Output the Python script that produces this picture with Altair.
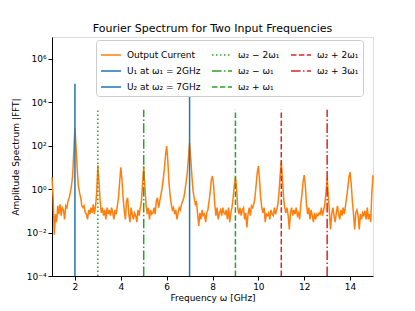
import altair as alt
import pandas as pd

# ---- data ----
freq_start = 1.0
freq_step = 0.05
spectrum = [
    # 1.00 - 1.95
    3.5, 0.4, 0.008, 0.07, 0.03, 0.17, 0.07, 0.2, 0.06, 0.14,
    0.11, 0.04, 0.17, 0.14, 0.28, 0.4, 0.7, 1.4, 4.2, 55,
    # 2.00 - 2.95
    650, 80, 8, 1.4, 0.7, 0.4, 0.17, 0.14, 0.17, 0.08,
    0.07, 0.04, 0.11, 0.07, 0.14, 0.08, 0.2, 0.07, 0.17, 0.7,
    # 3.00 - 3.95
    12.6, 2.1, 0.28, 0.08, 0.14, 0.06, 0.11, 0.04, 0.14, 0.07,
    0.11, 0.06, 0.14, 0.08, 0.04, 0.11, 0.07, 0.17, 0.4, 2.1,
    # 4.00 - 4.95
    10, 2.8, 0.4, 0.11, 0.04, 0.28, 0.4, 0.07, 0.03, 0.14,
    0.07, 0.04, 0.08, 0.06, 0.03, 0.11, 0.06, 0.14, 0.28, 1.7,
    # 5.00 - 5.95
    11.5, 1.4, 0.2, 0.07, 0.14, 0.04, 0.11, 0.07, 0.08, 0.14,
    0.07, 0.28, 0.4, 0.14, 0.28, 0.55, 1.1, 2.8, 8.4, 35,
    # 6.00 - 6.95
    95, 21, 2.1, 0.55, 0.2, 0.11, 0.14, 0.07, 0.11, 0.04,
    0.08, 0.14, 0.11, 0.2, 0.28, 0.4, 0.85, 2.1, 5.6, 28,
    # 7.00 - 7.95
    130, 28, 4.2, 0.85, 0.4, 0.2, 0.28, 0.07, 0.02, 0.08,
    0.04, 0.11, 0.06, 0.07, 0.03, 0.08, 0.11, 0.28, 0.7, 2.8,
    # 8.00 - 8.95
    4, 1.4, 0.2, 0.06, 0.14, 0.04, 0.08, 0.11, 0.06, 0.14,
    0.08, 0.07, 0.11, 0.04, 0.14, 0.03, 0.08, 0.14, 0.4, 1.4,
    # 9.00 - 9.95
    3.6, 1.1, 0.14, 0.07, 0.14, 0.06, 0.11, 0.14, 0.04, 0.08,
    0.017, 0.07, 0.14, 0.06, 0.17, 0.14, 0.2, 0.4, 1.4, 5.6,
    # 10.00 - 10.95
    11.5, 2.8, 0.4, 0.14, 0.08, 0.14, 0.03, 0.07, 0.06, 0.08,
    0.04, 0.11, 0.07, 0.06, 0.14, 0.07, 0.11, 0.2, 0.7, 4.2,
    # 11.00 - 11.95
    17.5, 2.8, 0.4, 0.14, 0.08, 0.14, 0.06, 0.014, 0.08, 0.14,
    0.06, 0.11, 0.07, 0.14, 0.06, 0.08, 0.04, 0.2, 0.55, 2.1,
    # 12.00 - 12.95
    4.4, 1.4, 0.2, 0.07, 0.14, 0.04, 0.11, 0.06, 0.03, 0.08,
    0.04, 0.07, 0.06, 0.08, 0.07, 0.14, 0.06, 0.11, 0.2, 0.7,
    # 13.00 - 13.95
    3.2, 0.55, 0.08, 0.014, 0.07, 0.14, 0.06, 0.03, 0.08, 0.17,
    0.07, 0.04, 0.11, 0.06, 0.14, 0.07, 0.17, 0.4, 1.1, 3.5,
    # 14.00 - 14.95
    6, 1.7, 0.28, 0.07, 0.014, 0.08, 0.11, 0.06, 0.014, 0.07,
    0.04, 0.08, 0.06, 0.1, 0.04, 0.14, 0.04, 0.07, 0.03, 0.7,
    # 15.00
    4.4,
]
freqs = [round(freq_start + i * freq_step, 2) for i in range(len(spectrum))]

# legend order (filled column by column, 3 columns)
legend_order = ["Output Current", "U₁ at ω₁ = 2GHz", "U₂ at ω₂ = 7GHz",
                "ω₂ − 2ω₁", "ω₂ − ω₁", "ω₂ + ω₁",
                "ω₂ + 2ω₁", "ω₂ + 3ω₁"]
legend_colors = ["#ff7f0e", "#1f77b4", "#1f77b4",
                 "#2ca02c", "#2ca02c", "#2ca02c",
                 "#d62728", "#d62728"]
legend_dashes = [[1, 0], [1, 0], [1, 0],
                 [1.5, 2.5], [9.6, 2.4, 1.5, 2.4], [5.5, 2.4],
                 [5.5, 2.4], [9.6, 2.4, 1.5, 2.4]]

# vertical marker lines
line_names = ["U₁ at ω₁ = 2GHz", "U₂ at ω₂ = 7GHz", "ω₂ − 2ω₁", "ω₂ − ω₁",
              "ω₂ + ω₁", "ω₂ + 2ω₁", "ω₂ + 3ω₁"]
line_freqs = [2, 7, 3, 5, 9, 11, 13]
line_tops = [7e4, 7e4, 4.5e3, 4.5e3, 4.5e3, 4.5e3, 4.5e3]
y_floor = 1e-4

spec_df = pd.DataFrame({"freq": freqs, "amp": spectrum, "series": "Output Current"})
lines_df = pd.DataFrame({"freq": line_freqs, "top": line_tops,
                         "bottom": [y_floor] * len(line_freqs), "series": line_names})

FONT = "DejaVu Sans"

color = alt.Color("series:N", sort=legend_order,
                  scale=alt.Scale(domain=legend_order, range=legend_colors),
                  legend=alt.Legend(title=None, orient="none", legendX=44, legendY=3,
                                    columns=3, gridAlign="each", symbolType="stroke",
                                    symbolSize=400, symbolStrokeWidth=1.5,
                                    labelFontSize=9, labelFont=FONT, labelColor="black",
                                    labelOffset=5, fillColor="white",
                                    strokeColor="#cccccc", cornerRadius=3, padding=4,
                                    rowPadding=-8, columnPadding=8, labelLimit=200))
dash = alt.StrokeDash("series:N", sort=legend_order,
                      scale=alt.Scale(domain=legend_order, range=legend_dashes),
                      legend=None)

x = alt.X("freq:Q", scale=alt.Scale(domain=[1, 15], nice=False, zero=False),
          axis=alt.Axis(title="Frequency ω [GHz]", values=[2, 4, 6, 8, 10, 12, 14],
                        grid=False, tickColor="black", domainColor="black",
                        labelFontSize=9, titleFontSize=9, labelFont=FONT,
                        titleFont=FONT, titleFontWeight="normal", labelColor="black",
                        titleColor="black", titlePadding=2, tickSize=4))
y_axis = alt.Axis(title="Amplitude Spectrum |FFT|", values=[1e-4, 1e-2, 1, 1e2, 1e4, 1e6],
                  grid=False, tickColor="black", domainColor="black",
                  labelFontSize=9, titleFontSize=9, labelFont=FONT, titleFont=FONT,
                  titleFontWeight="normal", labelColor="black", titleColor="black",
                  titlePadding=6, tickSize=4,
                  labelExpr="datum.value < 0.001 ? '10⁻⁴' : datum.value < 0.1 ? '10⁻²' : "
                            "datum.value < 10 ? '10⁰' : datum.value < 1000 ? '10²' : "
                            "datum.value < 100000 ? '10⁴' : '10⁶'")
yscale = alt.Scale(type="log", domain=[1e-4, 1e7], nice=False)

spec = alt.Chart(spec_df).mark_line(strokeWidth=1.5).encode(
    x=x,
    y=alt.Y("amp:Q", scale=yscale, axis=y_axis),
    color=color,
    strokeDash=dash,
)

rules = alt.Chart(lines_df).mark_rule(strokeWidth=1.5).encode(
    x=alt.X("freq:Q"),
    y=alt.Y("bottom:Q"),
    y2=alt.Y2("top:Q"),
    color=color,
    strokeDash=dash,
)

chart = alt.layer(spec, rules).properties(
    width=321, height=239,
    title=alt.TitleParams("Fourier Spectrum for Two Input Frequencies", fontSize=11,
                          font=FONT, fontWeight="normal", color="black", offset=3),
    autosize=alt.AutoSizeParams(type="none"),
    padding={"left": 44, "top": 29, "right": 34, "bottom": 27},
).configure_view(stroke="black", strokeWidth=1).configure(background="white")

chart.save("out.html", embed_options={"renderer": "svg", "actions": False})
